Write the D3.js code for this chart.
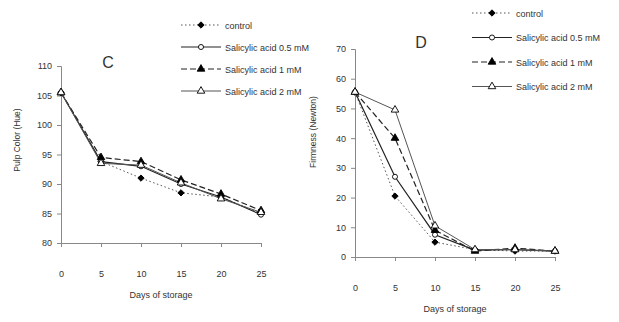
<!DOCTYPE html>
<html>
<head>
<meta charset="utf-8">
<script src="https://cdn.jsdelivr.net/npm/d3@7"></script>
<style>
body { margin: 0; background: #fff; }
text { font-family: Arial, "Liberation Sans", sans-serif; fill: #333; }
</style>
</head>
<body>
<script>
var days = [0, 5, 10, 15, 20, 25];
var seriesNames = ["control", "Salicylic acid 0.5 mM", "Salicylic acid 1 mM", "Salicylic acid 2 mM"];

// panel C - pulp color (hue)
var hueControl = [105.5, 93.8, 91.0, 88.5, 87.8, 85.0];
var hue05 = [105.5, 93.8, 93.0, 90.0, 87.8, 84.8];
var hue1 = [105.5, 94.5, 93.8, 90.7, 88.3, 85.5];
var hue2 = [105.5, 93.5, 93.2, 90.2, 87.5, 85.2];
var hueTicks = [80, 85, 90, 95, 100, 105, 110];

// panel D - firmness (newton)
var firmControl = [55.5, 20.5, 5.0, 2.5, 2.0, 2.0];
var firm05 = [55.5, 27.0, 7.5, 2.3, 2.5, 2.0];
var firm1 = [55.5, 40.0, 9.0, 2.0, 3.0, 2.0];
var firm2 = [55.5, 49.5, 10.5, 2.5, 2.5, 2.0];
var firmTicks = [0, 10, 20, 30, 40, 50, 60, 70];

// rotate = 45 turns the square into a diamond
var styles = [
	{ dash: "1.5,2.5", stroke: "#555", width: 1, symbol: d3.symbolSquare, size: 20, rot: 45, fill: "#000" },
	{ dash: null, stroke: "#222", width: 1.2, symbol: d3.symbolCircle, size: 20, rot: 0, fill: "#fff" },
	{ dash: "6,3", stroke: "#222", width: 1.2, symbol: d3.symbolTriangle, size: 25, rot: 0, fill: "#000" },
	{ dash: null, stroke: "#555", width: 1, symbol: d3.symbolTriangle, size: 25, rot: 0, fill: "#fff" }
];

var svg = d3.select("body").append("svg").attr("width", 619).attr("height", 322);

function drawPanel(opt) {
	var g = svg.append("g");
	var x = d3.scaleLinear().domain([0, 25]).range([opt.x0, opt.x1]);
	var y = d3.scaleLinear().domain(opt.domain).range([opt.y1, opt.y0]);

	var xAxis = g.append("g").attr("transform", "translate(0," + opt.y1 + ")")
		.call(d3.axisBottom(x).tickValues(days).tickSize(4).tickPadding(24));
	var yAxis = g.append("g").attr("transform", "translate(" + opt.x0 + ",0)")
		.call(d3.axisLeft(y).tickValues(opt.ticks).tickSize(4).tickPadding(5));
	[xAxis, yAxis].forEach(function(a) {
		a.select(".domain").attr("stroke", "#888");
		a.selectAll(".tick line").attr("stroke", "#888");
		a.selectAll("text").attr("font-size", 9).attr("fill", "#555");
	});

	g.append("text").attr("x", (opt.x0 + opt.x1) / 2).attr("y", opt.y1 + 55)
		.attr("text-anchor", "middle").attr("font-size", 9).attr("fill", "#444").text("Days of storage");
	g.append("text").attr("transform", "translate(" + opt.ylabX + "," + opt.ylabY + ") rotate(-90)")
		.attr("text-anchor", "middle").attr("font-size", 8.5).attr("fill", "#444").text(opt.ylab);
	g.append("text").attr("x", opt.letterX).attr("y", opt.letterY)
		.attr("text-anchor", "middle").attr("font-size", 16).attr("fill", "#000").text(opt.letter);

	var line = d3.line().x(function(d, i) { return x(days[i]); }).y(function(d) { return y(d); });

	opt.series.forEach(function(vals, k) {
		var s = styles[k];
		g.append("path").datum(vals).attr("d", line)
			.attr("fill", "none").attr("stroke", s.stroke).attr("stroke-width", s.width)
			.attr("stroke-dasharray", s.dash);
	});
	opt.series.forEach(function(vals, k) {
		var s = styles[k];
		g.selectAll(null).data(vals).enter().append("path")
			.attr("d", d3.symbol().type(s.symbol).size(s.size))
			.attr("transform", function(d, i) { return "translate(" + x(days[i]) + "," + y(d) + ") rotate(" + s.rot + ")"; })
			.attr("fill", s.fill).attr("stroke", "#000").attr("stroke-width", 0.9);
	});

	// legend
	var leg = g.append("g");
	seriesNames.forEach(function(name, k) {
		var s = styles[k];
		var ly = opt.legY + k * opt.legStep;
		leg.append("line").attr("x1", opt.legX).attr("x2", opt.legX + 40).attr("y1", ly).attr("y2", ly)
			.attr("stroke", s.stroke).attr("stroke-width", s.width).attr("stroke-dasharray", s.dash);
		leg.append("path").attr("d", d3.symbol().type(s.symbol).size(s.size))
			.attr("transform", "translate(" + (opt.legX + 20) + "," + ly + ") rotate(" + s.rot + ")")
			.attr("fill", s.fill).attr("stroke", "#000").attr("stroke-width", 0.9);
		leg.append("text").attr("x", opt.legX + 44).attr("y", ly + 3.5)
			.attr("font-size", 9).attr("fill", "#444").text(name);
	});
}

drawPanel({
	x0: 61, x1: 261, y0: 66, y1: 243, domain: [80, 110], ticks: hueTicks,
	ylab: "Pulp  Color (Hue)", ylabX: 20, ylabY: 140,
	letter: "C", letterX: 108, letterY: 68,
	series: [hueControl, hue05, hue1, hue2],
	legX: 181, legY: 25, legStep: 22
});

drawPanel({
	x0: 355, x1: 555, y0: 49, y1: 257, domain: [0, 70], ticks: firmTicks,
	ylab: "Firmness (Newton)", ylabX: 316, ylabY: 132,
	letter: "D", letterX: 421, letterY: 48,
	series: [firmControl, firm05, firm1, firm2],
	legX: 472, legY: 13, legStep: 24.5
});
</script>
</body>
</html>
